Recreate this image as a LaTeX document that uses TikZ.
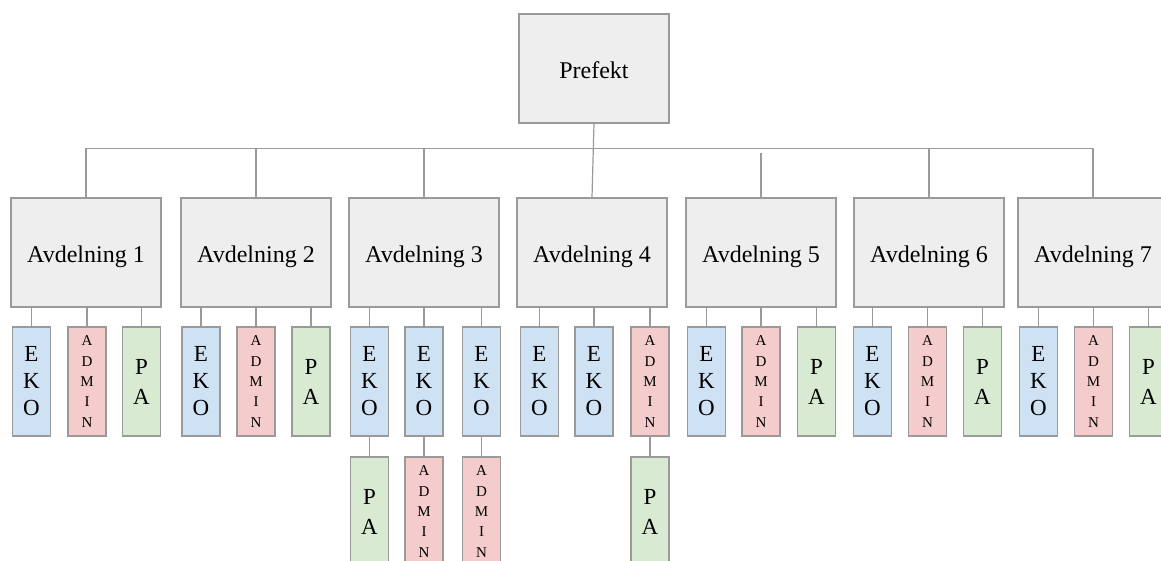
\documentclass[tikz,border=0pt]{standalone}
\usepackage{fontspec}
\setmainfont{Liberation Serif}
\definecolor{boxgray}{HTML}{EEEEEE}
\definecolor{edgegray}{HTML}{9A9A9A}
\definecolor{ekoblue}{HTML}{CFE2F3}
\definecolor{adminpink}{HTML}{F4CCCC}
\definecolor{pagreen}{HTML}{D9EAD3}
\tikzset{
  unitbox/.style={draw=edgegray, line width=1.4pt, fill=boxgray,
    minimum width=150pt, minimum height=109pt, inner sep=0pt,
    text height=20pt, text depth=0pt,
    font=\fontsize{24}{28}\selectfont},
  subbox/.style={draw=edgegray, line width=1.4pt, inner sep=0pt,
    minimum width=38pt, minimum height=109pt, align=center},
  eko/.style={subbox, fill=ekoblue, font=\fontsize{23}{27}\selectfont},
  admin/.style={subbox, fill=adminpink, font=\fontsize{15}{20.3}\selectfont},
  pa/.style={subbox, fill=pagreen, font=\fontsize{23}{30}\selectfont},
  link/.style={draw=edgegray, line width=1.2pt},
}
\newcommand{\ekotext}{E\\K\\O}
\newcommand{\admintext}{A\\D\\M\\I\\N}
\newcommand{\patext}{P\\A}
\begin{document}
\begin{tikzpicture}[x=1pt, y=-1pt]
\path[use as bounding box, clip] (0,0) rectangle (1161,560);

% top level
\node[unitbox] (pre) at (594,68.5) {Prefekt};

% departments
\foreach \i/\x in {1/86, 2/256, 3/424, 4/592, 5/761, 6/929, 7/1093}
  \node[unitbox] (a\i) at (\x,252.5) {Avdelning \i};

% department sub-units, first row
\foreach \i/\ex/\ax/\px in {1/31.5/87/141.5, 2/201/256/311, 5/706.5/761/816.5,
                            6/872.5/927.5/982.5, 7/1038.5/1093.5/1148.5} {
  \node[eko]   (e\i) at (\ex,381.5) {\ekotext};
  \node[admin] (m\i) at (\ax,381.5) {\admintext};
  \node[pa]    (p\i) at (\px,381.5) {\patext};
  \draw[link] (e\i.north) -- (e\i.north |- a\i.south);
  \draw[link] (m\i.north) -- (m\i.north |- a\i.south);
  \draw[link] (p\i.north) -- (p\i.north |- a\i.south);
}

% Avdelning 3: three EKO units, each with one unit below
\node[eko] (e3a) at (369.5,381.5) {\ekotext};
\node[eko] (e3b) at (424,381.5) {\ekotext};
\node[eko] (e3c) at (481.5,381.5) {\ekotext};
\node[pa]    (p3)  at (369.5,511.5) {\patext};
\node[admin] (m3b) at (424,511.5) {\admintext};
\node[admin] (m3c) at (481.5,511.5) {\admintext};
\foreach \n in {e3a,e3b,e3c}
  \draw[link] (\n.north) -- (\n.north |- a3.south);
\draw[link] (e3a.south) -- (p3.north);
\draw[link] (e3b.south) -- (m3b.north);
\draw[link] (e3c.south) -- (m3c.north);

% Avdelning 4: two EKO units and ADMIN with PA below
\node[eko]   (e4a) at (539.5,381.5) {\ekotext};
\node[eko]   (e4b) at (594,381.5) {\ekotext};
\node[admin] (m4)  at (650,381.5) {\admintext};
\node[pa]    (p4)  at (650,511.5) {\patext};
\foreach \n in {e4a,e4b,m4}
  \draw[link] (\n.north) -- (\n.north |- a4.south);
\draw[link] (m4.south) -- (p4.north);

% bus from Prefekt to the departments
\coordinate (bus) at (0,148.5);
\draw[link] (a1.north) -- (a1.north |- bus) -- (a7.north |- bus) -- (a7.north);
\foreach \i in {2,3,6}
  \draw[link] (a\i.north) -- (a\i.north |- bus);
\draw[link] (pre.south) -- (a4.north);
\coordinate (b5) at (761,153);
\draw[link] (a5.north) -- (b5);
\end{tikzpicture}
\end{document}
